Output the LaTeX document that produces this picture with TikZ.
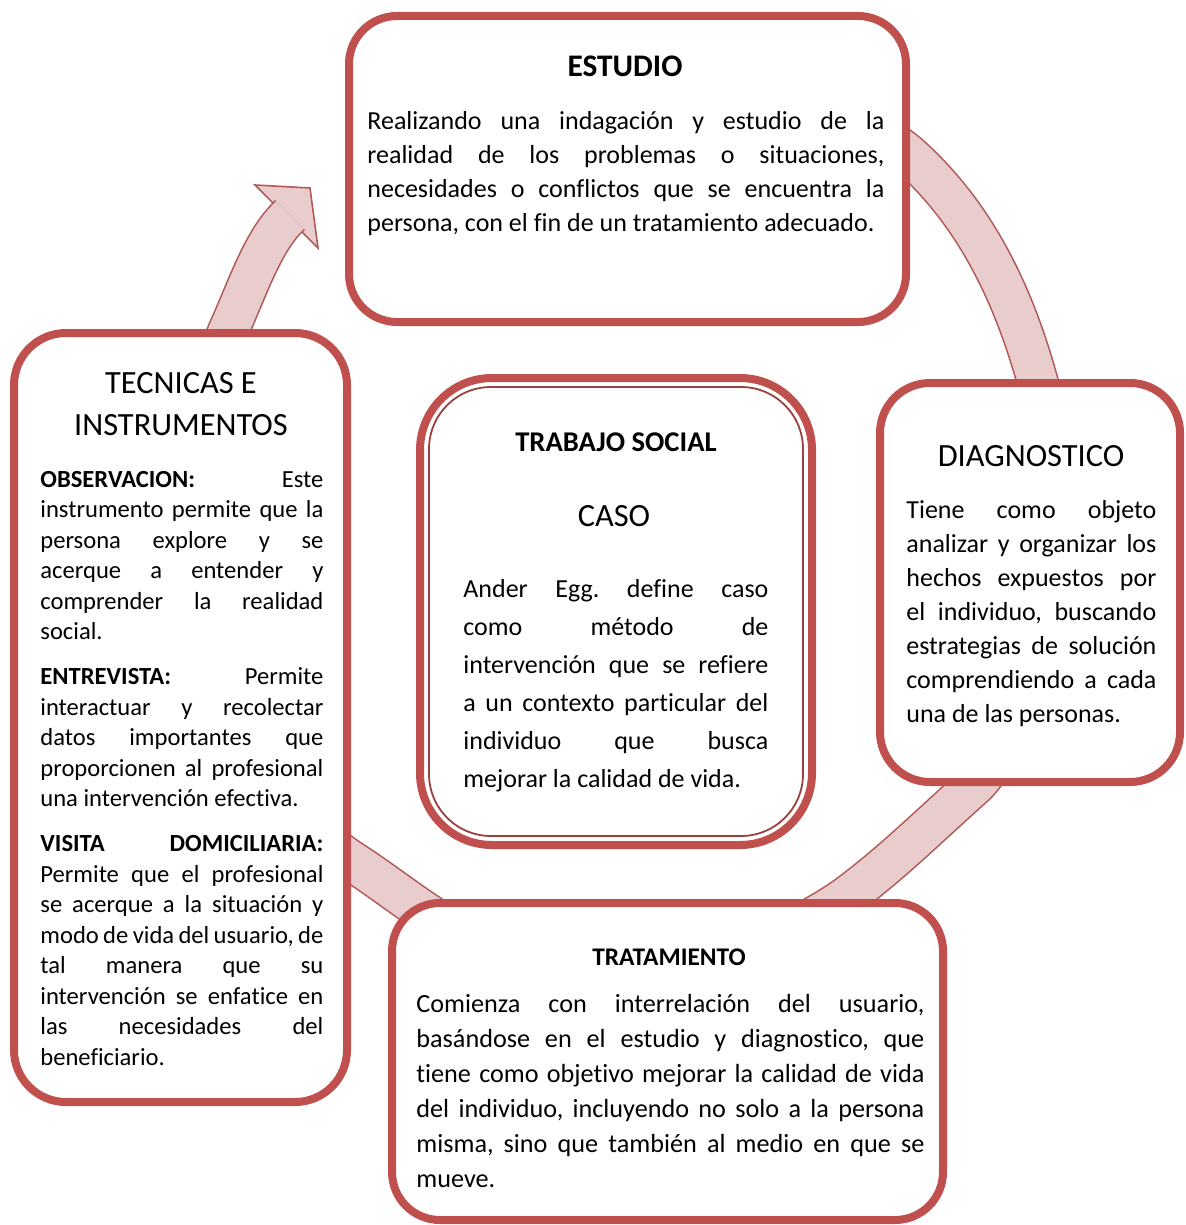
\documentclass[tikz,border=0pt]{standalone}
\usepackage{fontspec}
\setmainfont{Carlito}[Ligatures=CommonOff]
\usetikzlibrary{positioning}
\frenchspacing

\definecolor{cyclered}{HTML}{C0504D}
\definecolor{ringfill}{HTML}{E9CDCD}
\definecolor{ringline}{HTML}{B25A58}

\begin{document}
\begin{tikzpicture}[x=0.5pt, y=-0.5pt,
  stage/.style={draw=cyclered, line width=4pt, fill=white, rounded corners=24pt, inner sep=0pt},
  head/.style={anchor=base, inner sep=0pt, font=\fontsize{16.2}{21}\selectfont},
  txt/.style={anchor=base west, inner sep=0pt, align=justify}]
\fill[white] (0,0) rectangle (1186,1225);
\useasboundingbox (0,0) rectangle (1186,1225);

% flecha circular
\draw[ringline, line width=0.8pt, fill=ringfill, line join=miter] (255,185) -- (310,188) -- (318,248) -- cycle;
\draw[ringline, line width=0.8pt, double=ringfill, double distance=19.5pt]
  (620,95) .. controls (720,95) and (850,102) .. (910,156)
  .. controls (980,219) and (1016,303) .. (1038,383)
  .. controls (1060,463) and (1042,719) .. (975,785)
  .. controls (930,825) and (891,864) .. (846,897)
  .. controls (726,981) and (542,994) .. (422,910)
  .. controls (397,893) and (375,876) .. (350,860)
  .. controls (220,775) and (163,477) .. (230,327)
  .. controls (246,292) and (262,243) .. (287,218) -- (290,215);

% cajas
\node (estudio) [stage, minimum width=278.5pt, minimum height=153pt] at (627.5,169) {};
\node (tecnicas) [stage, minimum width=166.5pt, minimum height=384.5pt, rounded corners=26pt] at (180.5,717.5) {};
\node (caso) [stage, minimum width=196pt, minimum height=233.5pt, rounded corners=36pt] at (616,611.5) {};
\node (casoin) [draw=cyclered!80!black, line width=0.9pt, rounded corners=31pt, minimum width=187pt, minimum height=224.5pt, inner sep=0pt] at (caso.center) {};
\node (diag) [stage, minimum width=150pt, minimum height=199.5pt, rounded corners=25pt] at (1030,582.5) {};
\node (trat) [stage, minimum width=275.5pt, minimum height=158.5pt] at (667.5,1061.5) {};

% titulos
\node (estudiot) [head, font=\bfseries\fontsize{15.7}{19}\selectfont] at (625,77) {ESTUDIO};
\node (tecnicast) [head, align=center] at (181,435) {TECNICAS E\\INSTRUMENTOS};
\node (casot) [head, font=\bfseries\fontsize{14.3}{17}\selectfont] at (616,451) {TRABAJO SOCIAL};
\node (casot2) [head] at (614,526) {CASO};
\node (diagt) [head] at (1031,466) {DIAGNOSTICO};
\node (tratt) [head, font=\bfseries\fontsize{12.7}{15}\selectfont] at (669,965) {TRATAMIENTO};

% textos
\node (estudiox) [txt, text width=258.5pt, font=\fontsize{13}{17}\selectfont] at (367,130)
  {Realizando una indagación y estudio de la\linebreak
   realidad de los problemas o situaciones,\linebreak
   necesidades o conflictos que se encuentra la\linebreak
   persona, con el fin de un tratamiento adecuado.};
\node (tecnicasx) [txt, text width=141.5pt, font=\fontsize{12.3}{15.25}\selectfont] at (40,487)
  {\setlength{\parskip}{7.25pt}%
   \textbf{OBSERVACION:} Este\linebreak
   instrumento permite que la\linebreak
   persona explore y se\linebreak
   acerque a entender y\linebreak
   comprender la realidad\linebreak
   social.\par
   \textbf{ENTREVISTA:} Permite\linebreak
   interactuar y recolectar\linebreak
   datos importantes que\linebreak
   proporcionen al profesional\linebreak
   una intervención efectiva.\par
   \textbf{VISITA DOMICILIARIA:}\linebreak
   Permite que el profesional\linebreak
   se acerque a la situación y\linebreak
   modo de vida del usuario, de\linebreak
   tal manera que su\linebreak
   intervención se enfatice en\linebreak
   las necesidades del\linebreak
   beneficiario.};
\node (casox) [txt, text width=152.5pt, font=\fontsize{13}{19}\selectfont] at (463,597)
  {Ander Egg. define caso\linebreak
   como método de\linebreak
   intervención que se refiere\linebreak
   a un contexto particular del\linebreak
   individuo que busca\linebreak
   mejorar la calidad de vida.};
\node (diagx) [txt, text width=125pt, font=\fontsize{13}{17}\selectfont] at (906,518)
  {Tiene como objeto\linebreak
   analizar y organizar los\linebreak
   hechos expuestos por\linebreak
   el individuo, buscando\linebreak
   estrategias de solución\linebreak
   comprendiendo a cada\linebreak
   una de las personas.};
\node (tratx) [txt, text width=254pt, font=\fontsize{13.1}{17.5}\selectfont] at (416,1012)
  {Comienza con interrelación del usuario,\linebreak
   basándose en el estudio y diagnostico, que\linebreak
   tiene como objetivo mejorar la calidad de vida\linebreak
   del individuo, incluyendo no solo a la persona\linebreak
   misma, sino que también al medio en que se\linebreak
   mueve.};
\end{tikzpicture}
\end{document}
